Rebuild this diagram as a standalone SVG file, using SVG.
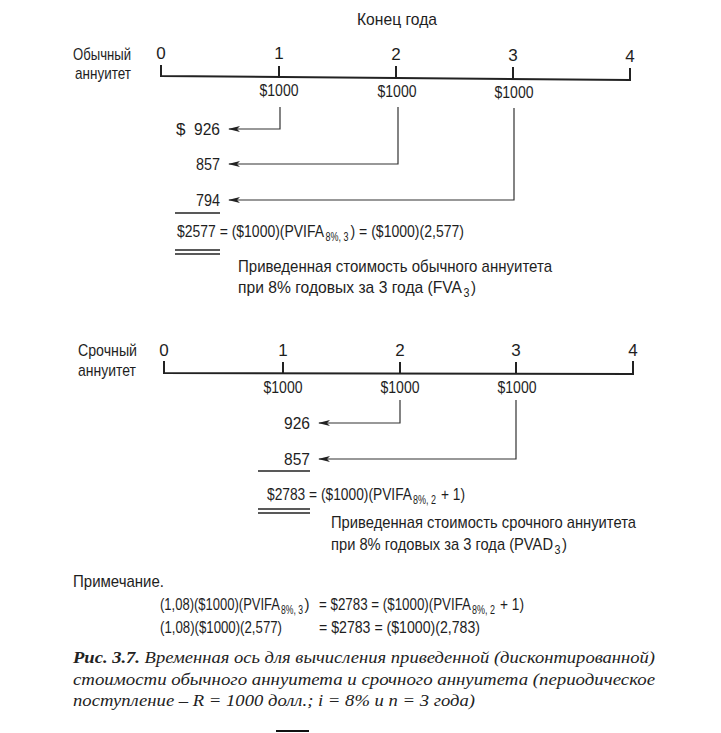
<svg xmlns="http://www.w3.org/2000/svg" width="721" height="733" viewBox="0 0 721 733">
<defs>
<marker id="ah" viewBox="0 0 12 6" refX="11" refY="3" markerWidth="12" markerHeight="6" markerUnits="userSpaceOnUse" orient="auto">
<path d="M0,0 L12,3 L0,6 L3,3 Z" fill="#222"/>
</marker>
</defs>
<style>
.t{font-family:"Liberation Sans",Arial,sans-serif;font-size:17px;fill:#1e1e1e}
.m{text-anchor:middle}
.s{font-size:12px}
.ax{stroke:#222;stroke-width:2;fill:none}
.c{stroke:#333;stroke-width:1.2;fill:none}
.u{stroke:#222;stroke-width:1.3}
.cap{font-family:"Liberation Serif","Times New Roman",serif;font-style:italic;font-size:17px;fill:#222}
</style>
<rect width="721" height="733" fill="#fff"/>

<g id="title"><text class="t m" x="397" y="25" textLength="80" lengthAdjust="spacingAndGlyphs">Конец года</text></g>

<g id="ordinary-label">
<text class="t" x="73" y="60" textLength="58" lengthAdjust="spacingAndGlyphs">Обычный</text>
<text class="t" x="75" y="79" textLength="56" lengthAdjust="spacingAndGlyphs">аннуитет</text>
</g>

<g id="axis1">
<path class="ax" d="M161,65 V76 L630,80"/>
<path class="ax" d="M279,66 V77 M396,66 V78 M513,67 V79 M630,68 V81"/>
<text class="t m" x="161" y="59">0</text>
<text class="t m" x="279" y="59">1</text>
<text class="t m" x="396" y="60">2</text>
<text class="t m" x="513" y="61">3</text>
<text class="t m" x="630" y="62">4</text>
<text class="t m" x="279" y="96" textLength="39" lengthAdjust="spacingAndGlyphs">$1000</text>
<text class="t m" x="397" y="97" textLength="39" lengthAdjust="spacingAndGlyphs">$1000</text>
<text class="t m" x="514" y="98" textLength="39" lengthAdjust="spacingAndGlyphs">$1000</text>
</g>

<g id="connectors">
<path class="c" d="M280,107 V129 H229" marker-end="url(#ah)"/>
<path class="c" d="M398,107 V164 H229" marker-end="url(#ah)"/>
<path class="c" d="M514,108 V200 H229" marker-end="url(#ah)"/>
<path class="c" d="M400,400 V423 H319" marker-end="url(#ah)"/>
<path class="c" d="M516,400 V459 H319" marker-end="url(#ah)"/>
</g>

<g id="pv1">
<text class="t" x="176" y="135">$</text>
<text class="t" x="220" y="135" text-anchor="end" textLength="26" lengthAdjust="spacingAndGlyphs">926</text>
<text class="t" x="220" y="170" text-anchor="end" textLength="24" lengthAdjust="spacingAndGlyphs">857</text>
<text class="t" x="220" y="206" text-anchor="end" textLength="24" lengthAdjust="spacingAndGlyphs">794</text>
<line class="u" x1="175" y1="213" x2="220" y2="213"/>
<text class="t" x="177" y="237" textLength="147" lengthAdjust="spacingAndGlyphs">$2577 = ($1000)(PVIFA</text>
<text class="t s" x="325.5" y="241" textLength="23" lengthAdjust="spacingAndGlyphs">8%, 3</text>
<text class="t" x="350.5" y="237" textLength="113.5" lengthAdjust="spacingAndGlyphs">) = ($1000)(2,577)</text>
<line class="u" x1="175" y1="250" x2="220" y2="250"/>
<line class="u" x1="175" y1="254" x2="220" y2="254"/>
<text class="t" x="238" y="272" textLength="314" lengthAdjust="spacingAndGlyphs">Приведенная стоимость обычного аннуитета</text>
<text class="t" x="238" y="293" textLength="224" lengthAdjust="spacingAndGlyphs">при 8% годовых за 3 года (FVA</text>
<text class="t s" x="463.5" y="297" textLength="6" lengthAdjust="spacingAndGlyphs">3</text>
<text class="t" x="471" y="293" textLength="5" lengthAdjust="spacingAndGlyphs">)</text>
</g>

<g id="due-label">
<text class="t" x="78" y="356" textLength="59" lengthAdjust="spacingAndGlyphs">Срочный</text>
<text class="t" x="78" y="376" textLength="58" lengthAdjust="spacingAndGlyphs">аннуитет</text>
</g>

<g id="axis2">
<path class="ax" d="M164,361 V373 L633,374"/>
<path class="ax" d="M283,362 V373 M400,362 V373 M516,362 V374 M633,361 V375"/>
<text class="t m" x="164" y="356">0</text>
<text class="t m" x="283" y="356">1</text>
<text class="t m" x="400" y="356">2</text>
<text class="t m" x="516" y="356">3</text>
<text class="t m" x="633" y="356">4</text>
<text class="t m" x="283" y="393" textLength="39" lengthAdjust="spacingAndGlyphs">$1000</text>
<text class="t m" x="400" y="393" textLength="39" lengthAdjust="spacingAndGlyphs">$1000</text>
<text class="t m" x="517" y="393" textLength="39" lengthAdjust="spacingAndGlyphs">$1000</text>
</g>

<g id="pv2">
<text class="t" x="310" y="429" text-anchor="end" textLength="26" lengthAdjust="spacingAndGlyphs">926</text>
<text class="t" x="310" y="465" text-anchor="end" textLength="26" lengthAdjust="spacingAndGlyphs">857</text>
<line class="u" x1="258" y1="471" x2="310" y2="471"/>
<text class="t" x="267" y="500" textLength="145" lengthAdjust="spacingAndGlyphs">$2783 = ($1000)(PVIFA</text>
<text class="t s" x="413" y="504" textLength="23" lengthAdjust="spacingAndGlyphs">8%, 2</text>
<text class="t" x="441" y="500" textLength="24" lengthAdjust="spacingAndGlyphs">+ 1)</text>
<line class="u" x1="258" y1="509" x2="310" y2="509"/>
<line class="u" x1="258" y1="513" x2="310" y2="513"/>
<text class="t" x="331" y="528" textLength="305" lengthAdjust="spacingAndGlyphs">Приведенная стоимость срочного  аннуитета</text>
<text class="t" x="331" y="550" textLength="222" lengthAdjust="spacingAndGlyphs">при 8% годовых за 3 года (PVAD</text>
<text class="t s" x="554.5" y="554" textLength="6" lengthAdjust="spacingAndGlyphs">3</text>
<text class="t" x="562" y="550" textLength="5" lengthAdjust="spacingAndGlyphs">)</text>
</g>

<g id="note">
<text class="t" x="73" y="587" textLength="91" lengthAdjust="spacingAndGlyphs">Примечание.</text>
<text class="t" x="160" y="610" textLength="120" lengthAdjust="spacingAndGlyphs">(1,08)($1000)(PVIFA</text>
<text class="t s" x="281" y="614" textLength="22" lengthAdjust="spacingAndGlyphs">8%, 3</text>
<text class="t" x="304.5" y="610" textLength="5" lengthAdjust="spacingAndGlyphs">)</text>
<text class="t" x="319" y="610" textLength="152" lengthAdjust="spacingAndGlyphs">= $2783 = ($1000)(PVIFA</text>
<text class="t s" x="472" y="614" textLength="23" lengthAdjust="spacingAndGlyphs">8%, 2</text>
<text class="t" x="500" y="610" textLength="24" lengthAdjust="spacingAndGlyphs">+ 1)</text>
<text class="t" x="160" y="633" textLength="122" lengthAdjust="spacingAndGlyphs">(1,08)($1000)(2,577)</text>
<text class="t" x="319" y="633" textLength="161" lengthAdjust="spacingAndGlyphs">= $2783 = ($1000)(2,783)</text>
</g>

<g id="caption">
<text class="cap" x="73" y="663" textLength="582" lengthAdjust="spacingAndGlyphs"><tspan font-weight="bold">Рис. 3.7.</tspan> Временная ось для вычисления приведенной (дисконтированной)</text>
<text class="cap" x="73" y="685" textLength="582" lengthAdjust="spacingAndGlyphs">стоимости обычного аннуитета и срочного аннуитета (периодическое</text>
<text class="cap" x="73" y="706" textLength="402" lengthAdjust="spacingAndGlyphs">поступление – R = 1000 долл.; i = 8%  и n = 3 года)</text>
</g>

<line x1="276" y1="731" x2="309" y2="731" stroke="#111" stroke-width="2"/>
</svg>
